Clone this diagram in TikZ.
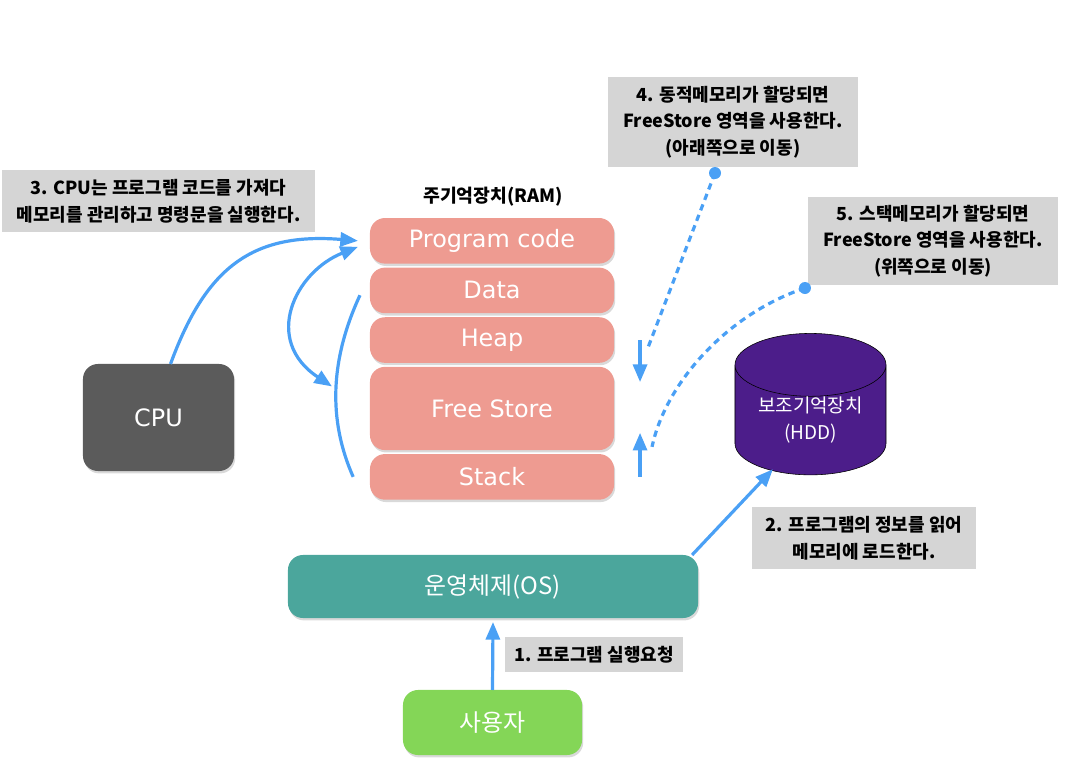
\documentclass[tikz,border=0pt]{standalone}
\usepackage{fontspec}
\setmainfont{DejaVu Sans}
\newfontfamily\kr{Noto Sans CJK KR}
\usepackage{tikz}
\usetikzlibrary{arrows.meta,shadows,shapes.geometric}
\definecolor{segpink}{RGB}{238,155,145}
\definecolor{cpugray}{RGB}{91,91,91}
\definecolor{osteal}{RGB}{75,166,156}
\definecolor{usergreen}{RGB}{132,214,87}
\definecolor{hddpurple}{RGB}{76,29,138}
\definecolor{notegray}{RGB}{213,213,213}
\definecolor{flowblue}{RGB}{74,160,245}

\begin{document}
\begin{tikzpicture}[x=0.025cm,y=-0.025cm,every node/.style={outer sep=0pt,inner sep=0pt}]
\tikzstyle{shade}=[drop shadow={opacity=0.3,shadow xshift=0.03cm,shadow yshift=-0.06cm}]
\tikzstyle{seg}=[shade,fill=segpink,rounded corners=0.375cm,minimum width=6.1cm,anchor=north,text=white,font=\fontsize{17}{20}\selectfont]
\tikzstyle{box}=[shade,rounded corners=0.375cm,text=white,font={\kr\fontsize{17}{20}\selectfont}]
\tikzstyle{note}=[fill=notegray,align=center,font={\kr\bfseries\fontsize{12.8}{19}\selectfont}]
\tikzstyle{flow}=[line width=0.08cm,draw=flowblue]
\tikzstyle{tip}=[-{Triangle[width=0.35cm,length=0.44cm]}]
\tikzstyle{tips}=[{Triangle[width=0.35cm,length=0.44cm]}-{Triangle[width=0.35cm,length=0.44cm]}]
\tikzstyle{dots}=[flow,dash pattern=on 0.16cm off 0.12cm]

\useasboundingbox (0,0) rectangle (1092,782);

% main memory
\node (RAM) at (493,197) [font={\kr\bfseries\fontsize{13}{16}\selectfont}] {주기억장치(RAM)};
\node (PC) at (492,218) [seg,minimum height=1.14cm] {Program code};
\node (DT) at (PC.south) [seg,minimum height=1.14cm,yshift=-0.1cm] {Data};
\node (HP) at (DT.south) [seg,minimum height=1.14cm,yshift=-0.1cm] {Heap};
\node (FS) at (HP.south) [seg,minimum height=2.08cm,yshift=-0.1cm] {Free Store};
\node (ST) at (FS.south) [seg,minimum height=1.14cm,yshift=-0.1cm] {Stack};

% devices
\node (CPU) at (158.5,417.5) [box,fill=cpugray,minimum width=3.775cm,minimum height=2.675cm,font=\fontsize{17}{20}\selectfont] {CPU};
\node (OS) at (493,586.5) [box,fill=osteal,minimum width=10.25cm,minimum height=1.575cm] {운영체제(OS)};
\node (US) at (492.5,722.5) [box,fill=usergreen,minimum width=4.475cm,minimum height=1.625cm] {사용자};
\node (HDD) at (810.5,420) [cylinder,shape border rotate=90,draw=black,fill=hddpurple,
   minimum width=3.775cm,minimum height=3.125cm,aspect=0.6,text=white,align=center,
   font={\kr\fontsize{13.5}{19.5}\selectfont}] {보조기억장치\\(HDD)};

% notes
\node (N1) at (594,654.5) [note,minimum width=4.45cm,minimum height=0.875cm] {1. 프로그램 실행요청};
\node (N2) at (864,538) [note,minimum width=5.6cm,minimum height=1.55cm] {2. 프로그램의 정보를 읽어\\메모리에 로드한다.};
\node (N3) at (158.5,201) [note,minimum width=7.825cm,minimum height=1.55cm] {3. CPU는 프로그램 코드를 가져다\\메모리를 관리하고 명령문을 실행한다.};
\node (N4) at (733,122) [note,minimum width=6.25cm,minimum height=2.25cm] {4. 동적메모리가 할당되면\\FreeStore 영역을 사용한다.\\(아래쪽으로 이동)};
\node (N5) at (933,241) [note,minimum width=6.25cm,minimum height=2.2cm] {5. 스택메모리가 할당되면\\FreeStore 영역을 사용한다.\\(위쪽으로 이동)};

% flows
\draw [flow,tip] (US.north) -- ([yshift=-0.1cm]OS.south);
\draw [flow,tip] ([xshift=-0.15cm]OS.north east) -- ([xshift=-0.94cm,yshift=0.14cm]HDD.south);
\draw [flow,tip] ([xshift=0.3cm]CPU.north) .. controls (205,270) and (250,232) .. ([xshift=-0.3cm]PC.west);
\draw [flow,tips] ([xshift=-0.3cm,yshift=-0.15cm]PC.west) .. controls (295,272) and (262,340) .. ([xshift=-0.95cm,yshift=0.55cm]FS.west);
\draw [flow] ([xshift=-0.25cm,yshift=-0.12cm]DT.west) .. controls (330,360) and (328,420) .. ([xshift=-0.42cm]ST.west);

% free store moves
\draw [flow,tip] ([xshift=0.65cm]HP.east) -- ([xshift=0.65cm,yshift=-0.48cm]HP.south east);
\draw [flow,tip] ([xshift=0.65cm]ST.east) -- ([xshift=0.65cm,yshift=1.1cm]ST.east);
\coordinate (D4) at ([xshift=-0.45cm,yshift=-0.15cm]N4.south);
\coordinate (D5) at ([xshift=-0.075cm,yshift=-0.075cm]N5.south west);
\draw [dots] (D4) -- ([xshift=0.825cm,yshift=-0.25cm]HP.east);
\draw [dots] (D5) .. controls (725,315) and (665,385) .. ([xshift=0.95cm,yshift=0.75cm]ST.east);
\fill [flowblue] (D4) circle (0.15cm);
\fill [flowblue] (D5) circle (0.15cm);

\end{tikzpicture}
\end{document}
